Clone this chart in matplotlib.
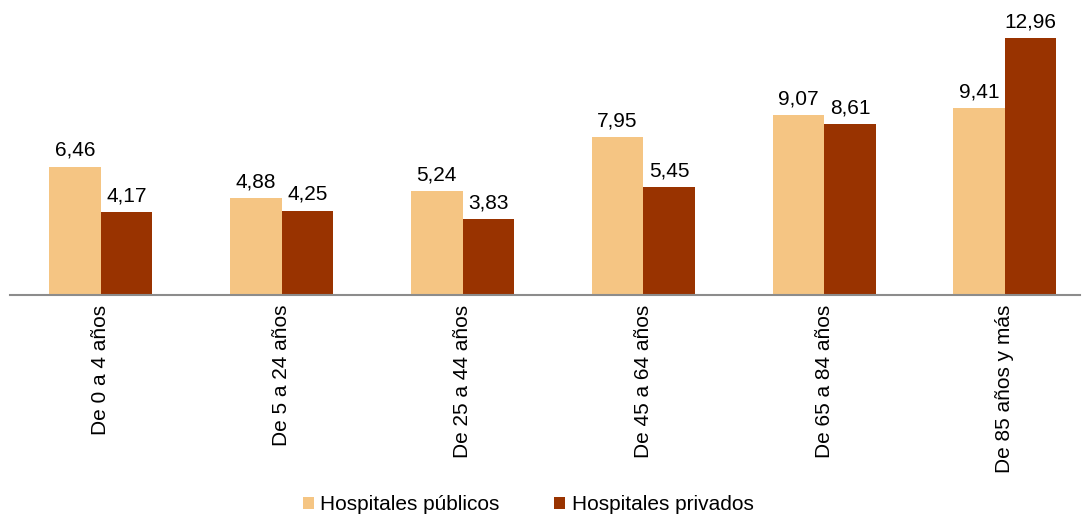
import matplotlib
matplotlib.use("Agg")
import matplotlib.pyplot as plt
import numpy as np

plt.rcParams["font.family"] = ["Liberation Sans", "DejaVu Sans"]

categories = ["De 0 a 4 años", "De 5 a 24 años", "De 25 a 44 años",
              "De 45 a 64 años", "De 65 a 84 años", "De 85 años y más"]
publicos = [6.46, 4.88, 5.24, 7.95, 9.07, 9.41]
privados = [4.17, 4.25, 3.83, 5.45, 8.61, 12.96]

C_PUB = "#F5C583"
C_PRI = "#993300"
W = 0.285
FS = 15


def fmt(v):
    return f"{v:.2f}".replace(".", ",")


fig = plt.figure(figsize=(10.82, 5.16), dpi=100)
ax = fig.add_axes([10 / 1082, 221 / 516, 1070 / 1082, 295 / 516])
x = np.arange(len(categories))
b1 = ax.bar(x - W / 2, publicos, W, color=C_PUB, label="Hospitales públicos")
b2 = ax.bar(x + W / 2, privados, W, color=C_PRI, label="Hospitales privados")
for bars, vals in ((b1, publicos), (b2, privados)):
    for r, v in zip(bars, vals):
        ax.text(r.get_x() + r.get_width() / 2, v + 0.35, fmt(v),
                ha="center", va="bottom", fontsize=FS)

ax.set_xlim(-0.503, 5.415)
ax.set_ylim(0, 14.88)
ax.set_yticks([])
ax.set_xticks(x)
ax.set_xticklabels(categories, rotation=90, fontsize=FS)
ax.tick_params(axis="x", length=0, pad=7)
for s in ("top", "right", "left"):
    ax.spines[s].set_visible(False)
ax.spines["bottom"].set_color("#8c8c8c")
ax.spines["bottom"].set_linewidth(1.5)

fig.legend(handles=[b1, b2], loc="center", bbox_to_anchor=(528 / 1082, 1 - 505 / 516),
           ncol=2, frameon=False, fontsize=FS, handlelength=0.55, handleheight=0.55,
           handletextpad=0.3, columnspacing=2.6)
fig.savefig("out.png", dpi=100)
